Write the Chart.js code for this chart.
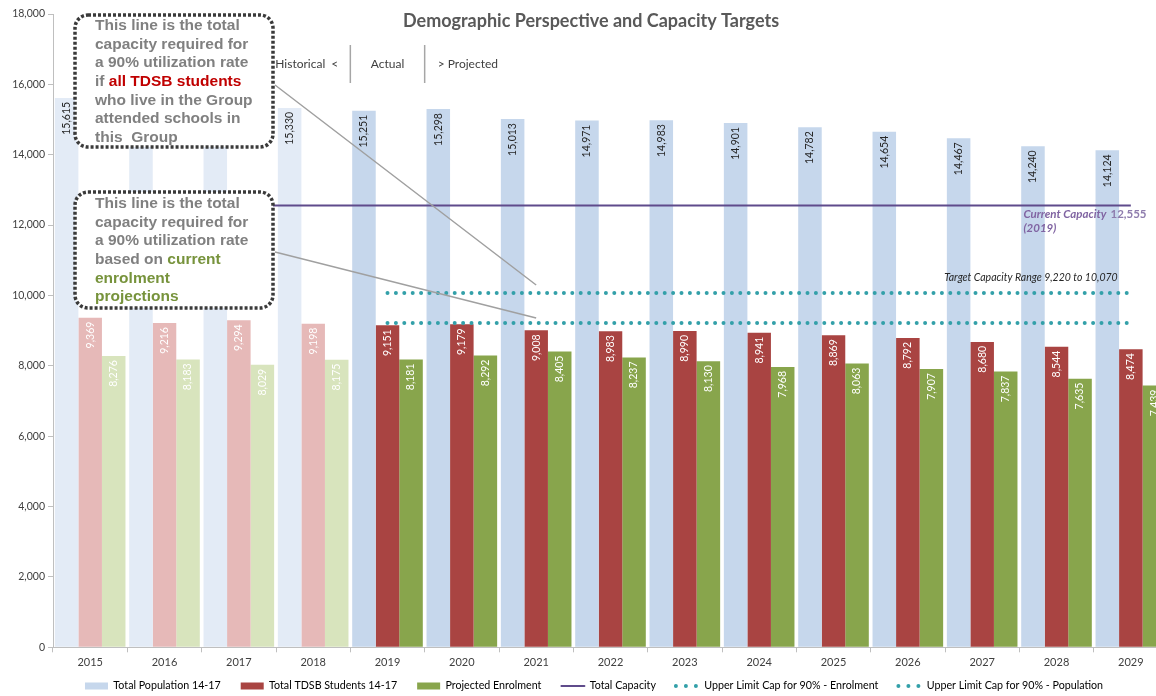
<!DOCTYPE html>
<html>
<head>
<meta charset="utf-8">
<script src="https://cdn.jsdelivr.net/npm/chart.js@4.4.1/dist/chart.umd.min.js"></script>
<style>
html,body{margin:0;padding:0;overflow:hidden;background:#fff;width:1156px;height:696px}
#wrap{position:relative;width:1180px;height:696px}
canvas{display:block}
</style>
</head>
<body>
<div id="wrap"><canvas id="c" width="1180" height="696"></canvas></div>
<script>
// ---------- data ----------
const years = ['2015','2016','2017','2018','2019','2020','2021','2022','2023','2024','2025','2026','2027','2028','2029'];
const totalPopulation = [15615, 15480, 15420, 15330, 15251, 15298, 15013, 14971, 14983, 14901, 14782, 14654, 14467, 14240, 14124];
const tdsbStudents = [9369, 9216, 9294, 9198, 9151, 9179, 9008, 8983, 8990, 8941, 8869, 8792, 8680, 8544, 8474];
const projectedEnrolment = [8276, 8183, 8029, 8175, 8181, 8292, 8405, 8237, 8130, 7968, 8063, 7907, 7837, 7635, 7439];
const totalCapacity = [12555, 12555, 12555, 12555, 12555, 12555, 12555, 12555, 12555, 12555, 12555, 12555, 12555, 12555, 12555];
const upperCapEnrolment = [null, null, null, null, 9220, 9220, 9220, 9220, 9220, 9220, 9220, 9220, 9220, 9220, 9220];
const upperCapPopulation = [null, null, null, null, 10070, 10070, 10070, 10070, 10070, 10070, 10070, 10070, 10070, 10070, 10070];
const yTicks = [0, 2000, 4000, 6000, 8000, 10000, 12000, 14000, 16000, 18000];
const firstActualYear = '2019';
const firstProjectedYear = '2020';
const seriesNames = ['Total Population 14-17', 'Total TDSB Students 14-17', 'Projected Enrolment', 'Total Capacity', 'Upper Limit Cap for 90% - Enrolment', 'Upper Limit Cap for 90% - Population'];

// ---------- styles ----------
const FONT = 'Lato, "DejaVu Sans", sans-serif';
const C = {
  popHist: '#e3ebf6', pop: '#c6d7ec',
  redHist: '#e6b9b8', red: '#a94442',
  greenHist: '#d8e4bd', green: '#88a54c',
  purple: '#5f4b8b', teal: '#33a0a9'
};
const isHist = y => y < firstActualYear;
const colorsBy = (h, a) => years.map(y => isHist(y) ? h : a);

Chart.defaults.font.family = FONT;

const fmt = v => v.toLocaleString('en-US');

const barLabels = {
  id: 'barLabels',
  afterDatasetsDraw(chart) {
    const ctx = chart.ctx;
    chart.data.datasets.forEach((ds, di) => {
      if (ds.type === 'line') return;
      const meta = chart.getDatasetMeta(di);
      meta.data.forEach((bar, i) => {
        const v = ds.data[i];
        if (v == null) return;
        ctx.save();
        ctx.translate(bar.x, bar.y + 4);
        ctx.rotate(-Math.PI / 2);
        ctx.font = '10.5px ' + FONT;
        ctx.fillStyle = ds.labelColor;
        ctx.textAlign = 'right';
        ctx.textBaseline = 'middle';
        ctx.fillText(fmt(v), 0, 0);
        ctx.restore();
      });
    });
  }
};

// place legend (centred a little right of the canvas centre, at y≈686)
const legendPlace = {
  id: 'legendPlace',
  afterLayout(chart) {
    const l = chart.legend;
    if (!l) return;
    const pad = l.options.labels.padding;
    const fs = l.options.labels.font.size;
    const newTop = 686 - pad - fs / 2;
    const dy = newTop - l.top;
    l.top += dy; l.bottom += dy;
    l.left += 10; l.right += 10;
  }
};

function richLines(ctx, x, y, lh, lines) {
  lines.forEach((segs, li) => {
    let cx = x;
    segs.forEach(([t, col]) => {
      ctx.fillStyle = col;
      ctx.fillText(t, cx, y + li * lh);
      cx += ctx.measureText(t).width;
    });
  });
}

const overlay = {
  id: 'overlay',
  afterDraw(chart) {
    const ctx = chart.ctx;
    const xs = chart.scales.x, ys = chart.scales.y;
    const gray = '#808080', darkRed = '#c00000', green = '#77933c';
    ctx.save();
    // title
    ctx.font = 'bold 18px ' + FONT;
    ctx.fillStyle = '#595959';
    ctx.textAlign = 'center';
    ctx.textBaseline = 'middle';
    ctx.fillText('Demographic Perspective and Capacity Targets', 591, 21);

    // period markers
    const iA = years.indexOf(firstActualYear), iP = years.indexOf(firstProjectedYear);
    const b1 = (xs.getPixelForValue(iA - 1) + xs.getPixelForValue(iA)) / 2;
    const b2 = (xs.getPixelForValue(iP - 1) + xs.getPixelForValue(iP)) / 2;
    ctx.strokeStyle = '#a6a6a6';
    ctx.lineWidth = 1.5;
    [b1, b2].forEach(bx => { ctx.beginPath(); ctx.moveTo(bx, 45); ctx.lineTo(bx, 83); ctx.stroke(); });
    ctx.font = '12px ' + FONT;
    ctx.fillStyle = '#404040';
    ctx.textBaseline = 'middle';
    ctx.textAlign = 'right';
    ctx.fillText('Historical  <', b1 - 12, 64);
    ctx.textAlign = 'center';
    ctx.fillText('Actual', (b1 + b2) / 2, 64);
    ctx.textAlign = 'left';
    ctx.fillText('> Projected', b2 + 13, 64);

    // capacity labels
    const capY = ys.getPixelForValue(totalCapacity[totalCapacity.length - 1]);
    const xl = xs.getPixelForValue(years.length - 2) - 33;
    ctx.font = 'italic bold 11.5px ' + FONT;
    ctx.fillStyle = '#8064a2';
    ctx.fillText('Current Capacity', xl, capY + 9);
    ctx.fillText('(2019)', xl, capY + 23);
    ctx.font = 'bold 11.5px ' + FONT;
    ctx.fillStyle = '#8e7cad';
    ctx.fillText(fmt(totalCapacity[totalCapacity.length - 1]), xl + 87, capY + 9);
    const popY = ys.getPixelForValue(upperCapPopulation[upperCapPopulation.length - 1]);
    ctx.font = 'italic 10.5px ' + FONT;
    ctx.fillStyle = '#262626';
    ctx.fillText('Target Capacity Range ' + fmt(upperCapEnrolment[upperCapEnrolment.length - 1]) + ' to ' + fmt(upperCapPopulation[upperCapPopulation.length - 1]), xs.getPixelForValue(years.length - 3) - 38, popY - 15);

    // annotation boxes
    const boxes = [
      {x: 75, y: 15, w: 198, h: 132, ty: 26, lines: [
        [['This line is the total', gray]],
        [['capacity required for', gray]],
        [['a 90% utilization rate', gray]],
        [['if ', gray], ['all TDSB students', darkRed]],
        [['who live in the Group', gray]],
        [['attended schools in', gray]],
        [['this  Group', gray]]
      ]},
      {x: 75, y: 192, w: 198, h: 116, ty: 204, lines: [
        [['This line is the total', gray]],
        [['capacity required for', gray]],
        [['a 90% utilization rate', gray]],
        [['based on ', gray], ['current', green]],
        [['enrolment', green]],
        [['projections', green]]
      ]}
    ];
    boxes.forEach(b => {
      ctx.beginPath();
      ctx.roundRect(b.x, b.y, b.w, b.h, 13);
      ctx.fillStyle = '#ffffff';
      ctx.fill();
      ctx.setLineDash([3, 2]);
      ctx.lineWidth = 3.5;
      ctx.strokeStyle = '#3a3a3a';
      ctx.stroke();
      ctx.setLineDash([]);
      ctx.font = 'bold 15.5px "Liberation Sans", Arial, sans-serif';
      ctx.textAlign = 'left';
      ctx.textBaseline = 'middle';
      richLines(ctx, b.x + 20, b.ty, 18.6, b.lines);
    });

    // connectors
    const cx = xs.getPixelForValue(6);
    ctx.strokeStyle = '#a0a0a0';
    ctx.lineWidth = 1.5;
    ctx.beginPath();
    ctx.moveTo(275, 85);
    ctx.lineTo(cx, ys.getPixelForValue(upperCapPopulation[6]) - 8);
    ctx.moveTo(275, 252);
    ctx.lineTo(cx, ys.getPixelForValue(upperCapEnrolment[6]) - 5);
    ctx.stroke();
    ctx.restore();
  }
};

new Chart(document.getElementById('c'), {
  type: 'bar',
  data: {
    labels: years,
    datasets: [
      {label: seriesNames[0], data: totalPopulation, backgroundColor: colorsBy(C.popHist, C.pop), legendColor: C.pop, labelColor: '#262626', order: 2},
      {label: seriesNames[1], data: tdsbStudents, backgroundColor: colorsBy(C.redHist, C.red), legendColor: C.red, labelColor: '#ffffff', order: 2},
      {label: seriesNames[2], data: projectedEnrolment, backgroundColor: colorsBy(C.greenHist, C.green), legendColor: C.green, labelColor: '#ffffff', order: 2},
      {type: 'line', label: seriesNames[3], data: totalCapacity, borderColor: C.purple, legendColor: C.purple, borderWidth: 2, pointRadius: 0, order: 1},
      {type: 'line', label: seriesNames[4], data: upperCapEnrolment, borderColor: C.teal, legendColor: C.teal, borderWidth: 4, borderDash: [0, 8.4], borderCapStyle: 'round', pointRadius: 0, order: 1, dotted: true},
      {type: 'line', label: seriesNames[5], data: upperCapPopulation, borderColor: C.teal, legendColor: C.teal, borderWidth: 4, borderDash: [0, 8.4], borderCapStyle: 'round', pointRadius: 0, order: 1, dotted: true}
    ]
  },
  options: {
    responsive: false,
    animation: false,
    events: [],
    layout: {padding: {top: 14, left: 0, right: 12, bottom: -22}},
    datasets: {bar: {barPercentage: 1, categoryPercentage: 0.95}},
    scales: {
      x: {
        grid: {offset: true, drawOnChartArea: false, tickLength: 5, color: '#bfbfbf'},
        border: {color: '#bfbfbf'},
        ticks: {color: '#404040', font: {size: 11}, padding: 4, maxRotation: 0},
        afterFit: s => { s.height = 30; }
      },
      y: {
        min: yTicks[0], max: yTicks[yTicks.length - 1],
        afterBuildTicks: s => { s.ticks = yTicks.map(v => ({value: v})); },
        grid: {drawOnChartArea: false, tickLength: 5, color: '#bfbfbf'},
        border: {color: '#bfbfbf'},
        ticks: {color: '#404040', font: {size: 10.5}, padding: 3, callback: v => fmt(v)},
        afterFit: s => { s.width = 53; }
      }
    },
    plugins: {
      title: {display: false},
      tooltip: {enabled: false},
      legend: {
        position: 'bottom',
        labels: {
          usePointStyle: true, pointStyleWidth: 23, boxWidth: 23, boxHeight: 7,
          padding: 20, color: '#404040', font: {size: 10.7},
          generateLabels(chart) {
            return chart.data.datasets.map((ds, i) => ({
              text: ds.label, datasetIndex: i, hidden: false,
              fillStyle: ds.legendColor, strokeStyle: ds.legendColor,
              lineWidth: ds.type === 'line' ? ds.borderWidth : 0,
              lineDash: ds.dotted ? [0, 10] : [],
              lineCap: 'round',
              pointStyle: ds.type === 'line' ? 'line' : 'rect'
            }));
          }
        }
      }
    }
  },
  plugins: [barLabels, legendPlace, overlay]
});
</script>
</body>
</html>
